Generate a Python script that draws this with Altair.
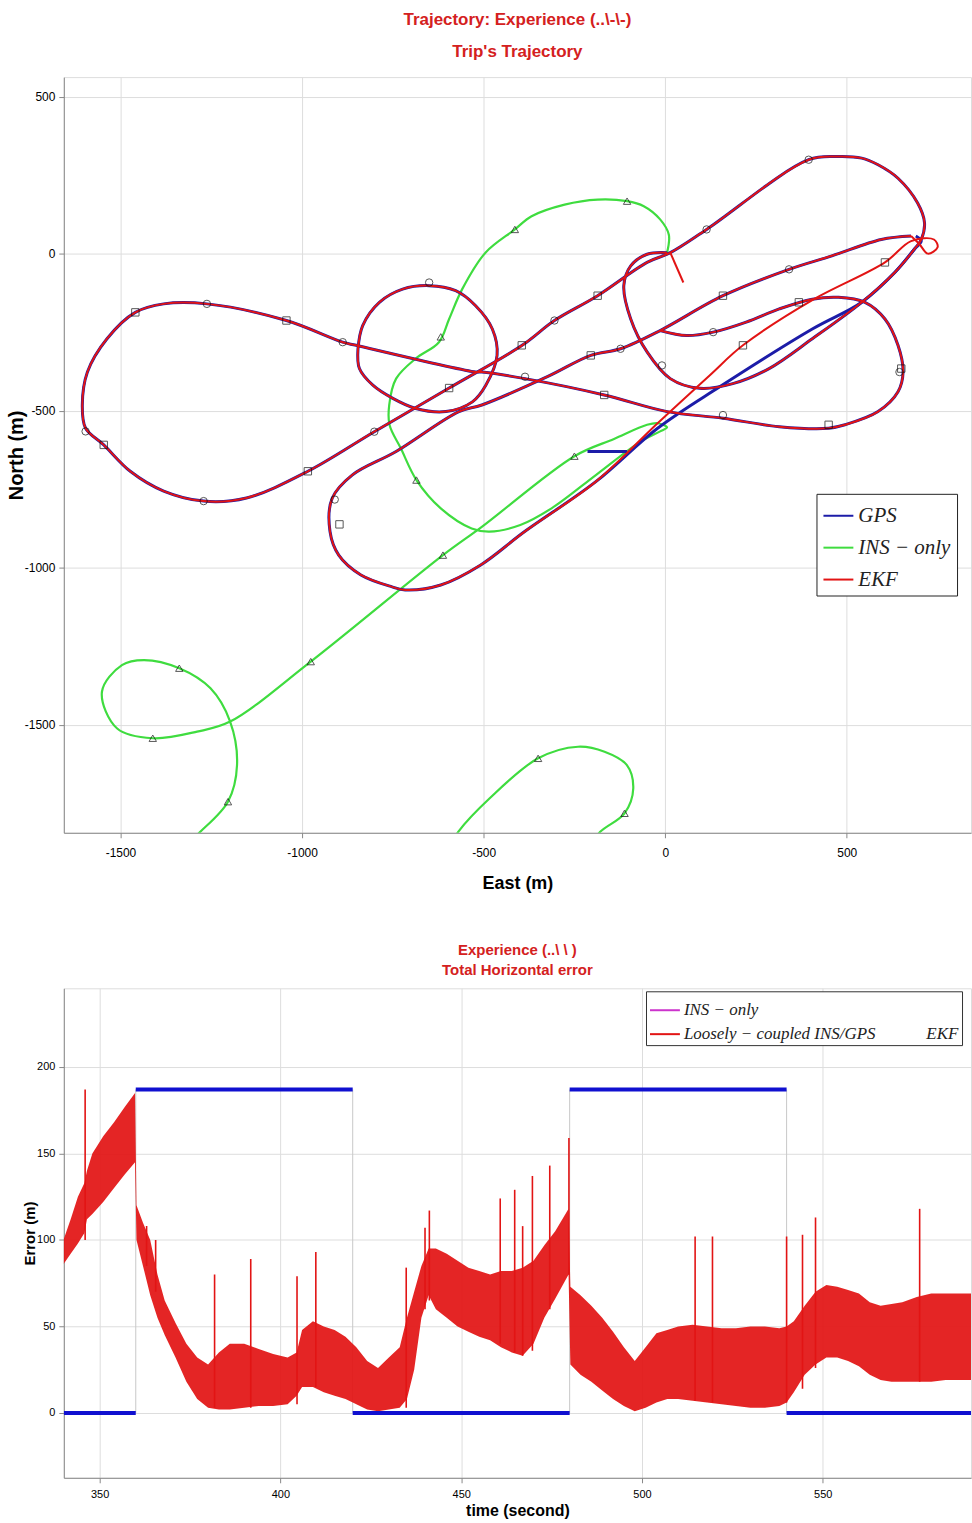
import altair as alt
import pandas as pd

NARROW = "Liberation Sans Narrow, Liberation Sans, Arial, sans-serif"
SANS = "Liberation Sans, Arial, sans-serif"
SERIF = "Liberation Serif, DejaVu Serif, serif"
BLUE = "#1c1ca8"
GREEN = "#3fdc3f"
RED = "#e21414"
TITLE_RED = "#d42020"
INS_LBL = "INS \u2212 only"
EKF_LBL = "Loosely \u2212 coupled INS/GPS\u2003\u2003\u2003EKF"

# ---------------- Trajectory (East / North in metres) ----------------
trackA_e = [-14, 59, 132, 223, 314, 405, 477, 550, 605, 641, 655, 641, 586, 495, 450, 314, 159, 5,
            -168, -386, -505, -522, -851, -888, -1043, -1262, -1381, -1459, -1537, -1591, -1605,
            -1596, -1546, -1473, -1381, -1271, -1153, -984, -801, -595, -394, -305, -186, -50, 14,
            114, 395, 477, 541, 586, 641, 695, 714, 705, 686, 632, 541, 405, 286, 186, 95, 14, -50,
            -95, -114, -95, -50, 5]
trackA_n = [-245, -261, -250, -218, -176, -145, -139, -155, -208, -292, -377, -440, -503, -545, -556,
            -551, -524, -503, -450, -398, -377, -377, -292, -282, -213, -160, -160, -187, -271, -377,
            -482, -556, -609, -693, -756, -788, -778, -693, -567, -428, -292, -213, -134, -28, 3,
            77, 299, 309, 304, 283, 240, 161, 98, 45, 14, -60, -155, -271, -366, -414, -429, -398,
            -313, -208, -102, -39, -2, 3]
trackB_e = [677, 595, 459, 341, 159, -14, -123, -205, -323, -505, -568, -741, -862, -917, -923, -899,
            -838, -752, -716, -618, -509, -387, -191, -21, 150, 405, 541, 632, 686, 705, 690]
trackB_n = [56, 45, -7, -50, -134, -245, -303, -324, -391, -482, -503, -630, -705, -779, -885, -960,
            -1023, -1061, -1071, -1055, -992, -885, -726, -556, -424, -240, -155, -60, 14, 40, 56]
ekfB_e = [677, 595, 459, 341, 159, -14, -123, -205, -323, -505, -568, -741, -862, -917, -923, -899,
          -838, -752, -716, -618, -509, -387, -191, -21, 123, 214, 405, 605, 677, 740, 750, 723, 700, 677]
ekfB_n = [56, 45, -7, -50, -134, -245, -303, -324, -391, -482, -503, -630, -705, -779, -885, -960,
          -1023, -1061, -1071, -1055, -992, -885, -726, -540, -387, -292, -148, -28, 40, 45, 20, 0, 30, 56]
circle_e = [-846, -833, -787, -723, -650, -577, -522, -476, -463, -494, -531, -604, -687, -750, -805, -842, -846]
circle_n = [-303, -229, -155, -113, -102, -118, -166, -240, -324, -419, -472, -503, -493, -461, -419, -366, -303]
gps_jump_e = [-214, -105]
gps_jump_n = [-630, -630]
ekf_start_e = [14, 50]
ekf_start_n = [3, -92]
ins1_e = [5, 10, -14, -59, -105, -186, -277, -368, -414, -495, -559, -595, -623, -687, -741, -760,
          -759, -728, -685, -618, -533, -484, -399, -313, -191, -70, -14, 5, -20, -50, -141, -250,
          -505, -612, -976, -1198, -1289, -1411, -1509, -1551, -1496, -1435, -1338, -1252, -1198,
          -1179, -1204, -1289, -1330]
ins1_n = [3, 60, 109, 151, 167, 172, 156, 119, 77, 3, -113, -208, -282, -334, -398, -482, -546, -620,
          -721, -811, -875, -885, -864, -811, -705, -600, -566, -553, -540, -545, -590, -645, -870,
          -960, -1299, -1490, -1522, -1543, -1512, -1395, -1310, -1294, -1320, -1384, -1490, -1628,
          -1745, -1851, -1900]
ins2_e = [-600, -570, -484, -350, -240, -167, -106, -88, -112, -179, -215]
ins2_n = [-1900, -1841, -1735, -1607, -1570, -1586, -1628, -1703, -1782, -1841, -1900]
gps_mk_e = [-1262, -888, -1271, -801, -1596, -650, -910, 114, 395, 341, 132, -123, -305, -386, -9, 159, 645]
gps_mk_n = [-160, -282, -788, -567, -566, -92, -783, 77, 299, -50, -250, -303, -213, -392, -356, -514, -377]
ins_mk_e = [-414, -105, -250, -618, -685, -612, -976, -1338, -1411, -1204, -350, -112]
ins_mk_n = [77, 167, -645, -265, -721, -960, -1299, -1320, -1543, -1745, -1607, -1782]
ekf_mk_e = [-1459, -1043, -1546, -984, -595, -395, -897, -186, -205, -168, 159, 214, 368, 605, 650, 450]
ekf_mk_n = [-187, -213, -609, -693, -428, -292, -862, -134, -324, -450, -134, -292, -155, -28, -366, -545]

# ---------------- Horizontal error (time in s, error in m) ----------------
err_t = [340, 342, 344, 345.8, 346.5, 348, 351, 354, 357, 359.8, 360.2, 362, 364, 366, 368, 371, 374,
         377, 380, 383, 386, 390, 394, 398, 402, 404.5, 406, 409, 412, 415, 418, 421, 424, 427, 430,
         433, 435, 437, 439, 441, 443, 446, 449, 452, 455, 458, 461, 464, 467, 470, 473, 476, 479.7,
         480.2, 483, 486, 489, 492, 495, 498, 501, 504, 507, 510, 514, 518, 522, 526, 530, 534, 538,
         540, 542, 545, 548, 551, 554, 557, 560, 563, 566, 569, 572, 576, 580, 584, 588, 591]
err_lo = [86, 92, 98, 104, 112, 115, 122, 130, 138, 145, 100, 85, 68, 55, 45, 32, 18, 8, 3, 2, 2, 3, 4,
          4, 5, 10, 15, 15, 12, 10, 8, 5, 2, 1, 2, 3, 8, 25, 55, 68, 60, 55, 50, 47, 44, 42, 38, 35, 33,
          40, 55, 66, 80, 28, 22, 18, 13, 8, 4, 1, 3, 6, 8, 8, 7, 6, 5, 4, 3, 3, 4, 6, 12, 22, 28, 32,
          32, 30, 27, 22, 19, 18, 18, 18, 18, 19, 19, 19]
err_hi = [100, 112, 125, 133, 140, 150, 160, 168, 177, 185, 120, 110, 100, 80, 65, 52, 40, 32, 28, 35,
          40, 40, 37, 34, 32, 35, 48, 53, 50, 48, 44, 38, 30, 26, 32, 38, 55, 70, 85, 95, 95, 92, 88,
          84, 82, 80, 82, 82, 84, 88, 97, 105, 118, 73, 68, 62, 55, 47, 38, 30, 38, 46, 48, 50, 51, 50,
          49, 49, 50, 50, 49, 50, 53, 62, 70, 74, 73, 71, 69, 64, 62, 63, 64, 67, 69, 69, 69, 69]
spike_t = [346, 363, 365.5, 381.8, 391.8, 404.6, 409.8, 434.8, 440, 441.2, 460.8, 464.8, 467, 469.7,
           474.5, 479.8, 514.7, 519.5, 540, 544.4, 548, 576.8]
spike_top = [187, 108, 100, 80, 89, 79, 93, 84, 107, 117, 124, 129, 108, 137, 143, 159, 102, 102, 102,
             103, 113, 118]
spike_base = [100, 85, 70, 3, 3, 5, 15, 3, 60, 65, 40, 35, 33, 36, 60, 80, 7, 6, 6, 14, 26, 18]
outage_t0 = [340.1, 360, 420, 480, 540]
outage_t1 = [360, 420, 480, 540, 591]
outage_level = [0, 187, 0, 187, 0]
switch_t = [360, 420, 480, 540]


def rows(series, seg, es, ns):
    return [{"series": series, "seg": seg, "i": i, "E": e, "N": n}
            for i, (e, n) in enumerate(zip(es, ns))]


gps_df = pd.DataFrame(rows("GPS", "A", trackA_e, trackA_n) + rows("GPS", "B", trackB_e, trackB_n)
                      + rows("GPS", "C", circle_e, circle_n) + rows("GPS", "D", gps_jump_e, gps_jump_n))
ekf_df = pd.DataFrame(rows("EKF", "A", trackA_e, trackA_n) + rows("EKF", "B", ekfB_e, ekfB_n)
                      + rows("EKF", "C", circle_e, circle_n) + rows("EKF", "S", ekf_start_e, ekf_start_n))
ins_df = pd.DataFrame(rows(INS_LBL, "1", ins1_e, ins1_n) + rows(INS_LBL, "2", ins2_e, ins2_n))
gps_mk = pd.DataFrame({"E": gps_mk_e, "N": gps_mk_n})
ins_mk = pd.DataFrame({"E": ins_mk_e, "N": ins_mk_n})
ekf_mk = pd.DataFrame({"E": ekf_mk_e, "N": ekf_mk_n})

xs = alt.Scale(domain=[-1656, 842], nice=False, zero=False)
ys = alt.Scale(domain=[-1844, 562], nice=False, zero=False)
cs = alt.Scale(domain=["GPS", INS_LBL, "EKF"], range=[BLUE, GREEN, RED])

W = 910
H_TOP = 758
H_BOT = 491

x_axis_top = alt.Axis(values=[-1500, -1000, -500, 0, 500], title="East (m)", labelExpr="'' + datum.value",
                      titleX=W / 2, titleY=51, titleBaseline="middle", titleFont=NARROW, titleFontSize=18,
                      labelPadding=10, labelFontSize=12, labelFont=NARROW)
y_axis_top = alt.Axis(values=[-1500, -1000, -500, 0, 500], title="North (m)", labelExpr="'' + datum.value",
                      titleX=-47, titleY=H_TOP / 2, titleBaseline="middle", titleAngle=-90,
                      titleFont=SANS, titleFontSize=20, labelPadding=4, labelFontSize=12, labelFont=NARROW)

leg_top = alt.Legend(orient="none", legendX=755, legendY=418, title=None, symbolType="stroke",
                     symbolStrokeWidth=2, symbolSize=900, labelFont=SERIF, labelFontStyle="italic",
                     labelFontSize=21, labelColor="#222", strokeColor="#222", fillColor="white",
                     padding=6, rowPadding=6, labelLimit=300, labelOffset=4)


def traj(df, sw):
    return alt.Chart(df).mark_line(strokeWidth=sw, interpolate="catmull-rom", clip=True).encode(
        x=alt.X("E:Q", scale=xs, axis=x_axis_top),
        y=alt.Y("N:Q", scale=ys, axis=y_axis_top),
        color=alt.Color("series:N", scale=cs, legend=leg_top),
        detail="seg:N",
        order="i:Q",
    )


def marks(df, shape):
    return alt.Chart(df).mark_point(shape=shape, filled=False, color="#111", size=55, strokeWidth=1,
                                    clip=True).encode(x=alt.X("E:Q", scale=xs, axis=x_axis_top),
                                                      y=alt.Y("N:Q", scale=ys, axis=y_axis_top))


top = alt.layer(
    traj(ins_df, 2.2), traj(gps_df, 3.0), traj(ekf_df, 2.0),
    marks(gps_mk, "circle"), marks(ins_mk, "triangle-up"), marks(ekf_mk, "square"),
).properties(
    width=W, height=H_TOP,
    title=alt.TitleParams(["Trajectory: Experience (..\\-\\-)", "Trip's Trajectory"], color=TITLE_RED,
                          font=NARROW, fontSize=17, fontWeight="bold", lineHeight=32, offset=16,
                          anchor="middle"),
)

# ---------------- bottom chart ----------------
err_df = pd.DataFrame({"t": err_t, "lo": err_lo, "hi": err_hi})
spk_df = pd.DataFrame({"t": spike_t, "top": spike_top, "base": spike_base, "kind": EKF_LBL})
out_df = pd.DataFrame({"t0": outage_t0, "t1": outage_t1, "level": outage_level})
sw_df = pd.DataFrame({"t": switch_t, "y0": 0, "y1": 187})

xb = alt.Scale(domain=[340.1, 591], nice=False, zero=False)
yb = alt.Scale(domain=[-37.5, 245.5], nice=False, zero=False)
cb = alt.Scale(domain=[INS_LBL, EKF_LBL], range=["#cc33cc", RED])

x_axis_bot = alt.Axis(values=[350, 400, 450, 500, 550], title="time (second)", titleX=W / 2, titleY=33,
                      titleBaseline="middle", titleFont=NARROW, titleFontSize=16, labelPadding=6,
                      labelFontSize=11, labelFont=NARROW)
y_axis_bot = alt.Axis(values=[0, 50, 100, 150, 200], title="Error (m)", titleX=-34, titleY=H_BOT / 2,
                      titleBaseline="middle", titleAngle=-90, titleFont=SANS, titleFontSize=15,
                      labelPadding=4, labelFontSize=11, labelFont=NARROW)
leg_bot = alt.Legend(orient="none", legendX=584, legendY=3, title=None, symbolType="stroke",
                     symbolStrokeWidth=2, symbolSize=900, labelFont=SERIF, labelFontStyle="italic",
                     labelFontSize=17, labelColor="#222", strokeColor="#333", fillColor="white",
                     padding=3, rowPadding=-8, labelLimit=400, labelOffset=3)

switch = alt.Chart(sw_df).mark_rule(color="#c8c8c8", strokeWidth=1, clip=True).encode(
    x=alt.X("t:Q", scale=xb, axis=x_axis_bot), y=alt.Y("y0:Q", scale=yb, axis=y_axis_bot), y2="y1:Q")
band = alt.Chart(err_df).mark_area(color=RED, opacity=0.93, clip=True).encode(
    x=alt.X("t:Q", scale=xb, axis=x_axis_bot), y=alt.Y("lo:Q", scale=yb, axis=y_axis_bot), y2="hi:Q")
spikes = alt.Chart(spk_df).mark_rule(strokeWidth=1.6, clip=True).encode(
    x=alt.X("t:Q", scale=xb, axis=x_axis_bot), y=alt.Y("base:Q", scale=yb, axis=y_axis_bot), y2="top:Q",
    color=alt.Color("kind:N", scale=cb, legend=leg_bot))
outage = alt.Chart(out_df).mark_rule(color="#1010d0", strokeWidth=4, clip=True).encode(
    x=alt.X("t0:Q", scale=xb, axis=x_axis_bot), x2="t1:Q", y=alt.Y("level:Q", scale=yb, axis=y_axis_bot))

bottom = alt.layer(switch, band, spikes, outage).properties(
    width=W, height=H_BOT,
    title=alt.TitleParams(["Experience (..\\ \\ )", "Total Horizontal error"], color=TITLE_RED,
                          font=NARROW, fontSize=15, fontWeight="bold", lineHeight=20, offset=10,
                          anchor="middle"),
)

chart = alt.vconcat(top, bottom, spacing=49).resolve_scale(color="independent").properties(
    padding={"left": 6, "top": 8, "right": 0, "bottom": 0}
).configure_view(stroke="#333", strokeWidth=1.6).configure_axis(
    grid=True, gridDash=[1, 2], gridColor="#555", gridOpacity=0.8, ticks=False, domain=False,
    labelFont=NARROW, labelFontSize=12, labelColor="#222", titleFontWeight="bold", titleColor="#111",
).configure(background="white")

chart.save("out.html", embed_options={"renderer": "svg", "actions": False})
